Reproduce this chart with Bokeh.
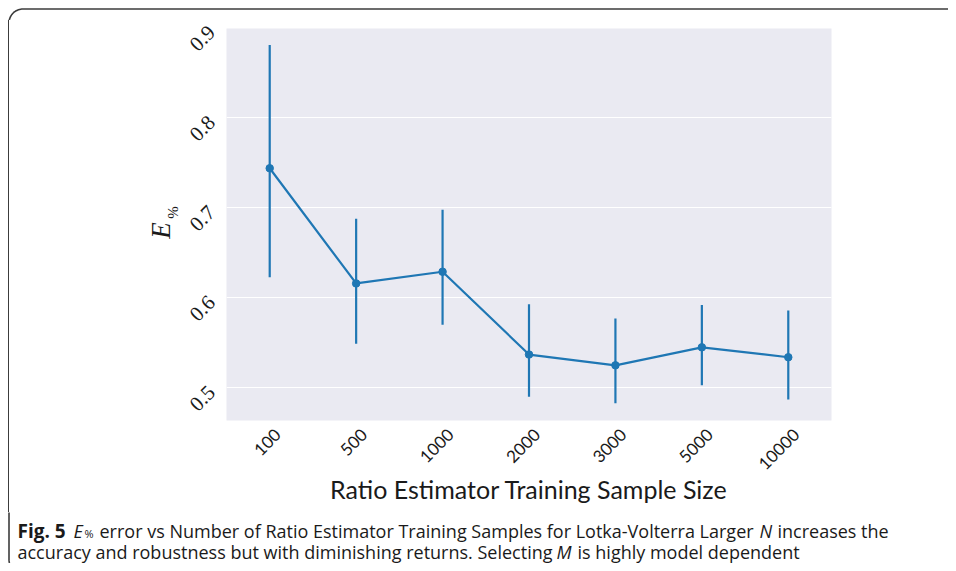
import math
import numpy as np
from bokeh.plotting import figure
from bokeh.layouts import column, row
from bokeh.models import Range1d, FixedTicker, LinearAxis
from bokeh.core.properties import value
from bokeh.embed import file_html
from bokeh.resources import INLINE

# ---- data ----
sample_sizes = ["100", "500", "1000", "2000", "3000", "5000", "10000"]
mean_err = [0.744, 0.616, 0.629, 0.537, 0.525, 0.545, 0.534]
upper_err = [0.881, 0.688, 0.698, 0.593, 0.577, 0.592, 0.586]
lower_err = [0.623, 0.549, 0.570, 0.490, 0.483, 0.503, 0.487]
y_ticks = [0.5, 0.6, 0.7, 0.8, 0.9]

BLUE = "#1f77b4"
TXT = "#1a1a1a"
EDGE = "#3c3c3c"
TOTAL_W, TOTAL_H = 948, 563
TOP_H, ROW_H = 20, 492
LEFT_W = 180
CAP_H = TOTAL_H - TOP_H - ROW_H
FRAME_TOP, FRAME_BOTTOM = 28, 420
EDGE_CSS = ("linear-gradient(to right, rgba(0,0,0,0) 0px, rgba(0,0,0,0) 7.7px, #3c3c3c 7.7px, "
            "#3c3c3c 9.3px, rgba(0,0,0,0) 9.3px, rgba(0,0,0,0) 100%)")


def deco_fig(w, h, x0, y0, frame_y=None):
    """Figure whose frame spans the canvas width, with page-pixel ranges (y down)."""
    ys = frame_y if frame_y else (y0 + h, y0)
    f = figure(width=w, height=h, x_range=Range1d(x0, x0 + w), y_range=Range1d(*ys),
               output_backend="svg", toolbar_location=None,
               min_border_left=0, min_border_right=0, min_border_top=0, min_border_bottom=0)
    f.axis.visible = False
    f.grid.visible = False
    f.outline_line_color = None
    f.background_fill_color = "white"
    f.border_fill_color = "white"
    return f


# ---- rounded border path (decoration) ----
R = 14
bx, by, bbot = 8.5, 8.5, 573.0
th = np.linspace(0, math.pi / 2, 20)
corner_tl_x = list(bx + R - R * np.cos(th))
corner_tl_y = list(by + R - R * np.sin(th))
corner_bl_x = list(bx + R - R * np.cos(th))
corner_bl_y = list(bbot - R + R * np.sin(th))
border_x = corner_bl_x[::-1] + corner_tl_x + [TOTAL_W + 10]
border_y = corner_bl_y[::-1] + corner_tl_y + [by]


def draw_border(f):
    f.line(border_x, border_y, line_color=EDGE, line_width=1.6)


# ---- top strip ----
top = deco_fig(TOTAL_W, TOP_H, 0, 0)
draw_border(top)

# ---- left strip with y-axis title (its frame is aligned with the plot frame) ----
left = deco_fig(LEFT_W, ROW_H, 0, TOP_H, frame_y=(FRAME_BOTTOM, FRAME_TOP))
left.background_fill_alpha = 0
left.border_fill_alpha = 0
left.styles = {"background": EDGE_CSS}
left.text(x=[160], y=[230], text=["E"], angle=math.pi / 2,
          text_font=value("Liberation Serif"), text_font_style="italic",
          text_font_size="27px", text_align="center", text_baseline="middle", text_color=TXT)
left.text(x=[172], y=[212], text=["%"], angle=math.pi / 2,
          text_font=value("Liberation Serif"), text_font_size="15px",
          text_align="center", text_baseline="middle", text_color=TXT)

# ---- main plot ----
n = len(sample_sizes)
xpos = list(range(n))  # category index of each sample size
FRAME_W, FRAME_H = 606, FRAME_BOTTOM - FRAME_TOP
MB_L, MB_T = 225 - LEFT_W, FRAME_TOP - TOP_H
p = figure(x_range=Range1d(-0.5, n - 0.5), y_range=Range1d(0.4637, 0.8993),
           width=TOTAL_W - LEFT_W, height=ROW_H, output_backend="svg", toolbar_location=None,
           min_border_left=MB_L, min_border_right=TOTAL_W - LEFT_W - MB_L - FRAME_W,
           min_border_top=MB_T, min_border_bottom=ROW_H - MB_T - FRAME_H)
p.background_fill_color = "#EAEAF2"
p.border_fill_color = "white"
p.outline_line_color = None
p.xaxis.visible = False
p.yaxis.visible = False
p.xgrid.visible = False
p.ygrid.ticker = FixedTicker(ticks=y_ticks)
p.ygrid.grid_line_color = "white"
p.ygrid.grid_line_width = 1

p.segment(x0=xpos, y0=lower_err, x1=xpos, y1=upper_err, line_color=BLUE, line_width=2.2)
p.line(xpos, mean_err, line_color=BLUE, line_width=2.2)
p.scatter(xpos, mean_err, size=7.5, fill_color=BLUE, line_color=BLUE)

# x tick-label axis: slightly shifted so the rotated labels sit centred under their ticks
shift = 0.09
p.extra_x_ranges = {"xlab": Range1d(-0.5 - shift, n - 0.5 - shift)}
xax = LinearAxis(x_range_name="xlab", ticker=FixedTicker(ticks=xpos),
                 major_label_overrides={i: s for i, s in zip(xpos, sample_sizes)})
xax.axis_line_color = None
xax.major_tick_line_color = None
xax.minor_tick_line_color = None
xax.major_label_orientation = math.pi / 4
xax.major_label_text_font = "Lato"
xax.major_label_text_font_size = "17px"
xax.major_label_text_color = TXT
xax.major_label_standoff = 5
xax.axis_label = "Ratio Estimator Training Sample Size"
xax.axis_label_text_font = "Lato"
xax.axis_label_text_font_size = "25px"
xax.axis_label_text_font_style = "normal"
xax.axis_label_text_color = TXT
xax.axis_label_standoff = -5
p.add_layout(xax, "below")

# y tick-label axis (a hair lower than the gridlines, and keeping 0.9 in range)
d = 0.0012
p.extra_y_ranges = {"ylab": Range1d(0.4637 + d, 0.8993 + d)}
yax = LinearAxis(y_range_name="ylab", ticker=FixedTicker(ticks=y_ticks))
yax.axis_line_color = None
yax.major_tick_line_color = None
yax.minor_tick_line_color = None
yax.major_label_orientation = math.pi / 4
yax.major_label_text_font = "Liberation Serif"
yax.major_label_text_font_size = "21px"
yax.major_label_text_color = TXT
yax.major_label_standoff = 9
p.add_layout(yax, "left")

# ---- caption strip ----
cap = deco_fig(TOTAL_W, CAP_H, 0, TOP_H + ROW_H)
draw_border(cap)
CAP_FONT = "Open Sans"


def cap_text(x, y, t, style="normal", size="18px"):
    cap.text(x=[x], y=[y], text=[t], text_font=value(CAP_FONT), text_font_style=style,
             text_font_size=size, text_color=TXT, text_align="left", text_baseline="alphabetic")


cap_text(17, 530, "Fig. 5", "bold", "19px")
cap_text(73, 530, "E", "italic")
cap_text(84, 533, "%", "normal", "11px")
cap_text(99, 530, "error vs Number of Ratio Estimator Training Samples for Lotka-Volterra Larger")
cap_text(759, 530, "N", "italic")
cap_text(777, 530, "increases the")
cap_text(17, 551, "accuracy and robustness but with diminishing returns. Selecting")
cap_text(556, 551, "M", "italic")
cap_text(577, 551, "is highly model dependent")

layout = column(top, row(left, p), cap)
open("out.html", "w").write(file_html(layout, INLINE))
